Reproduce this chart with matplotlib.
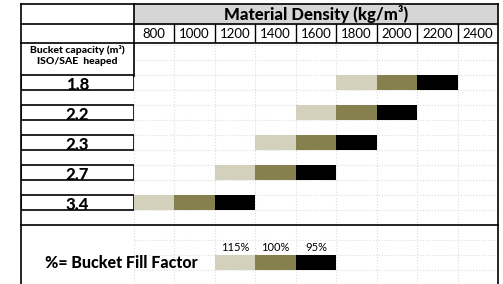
import matplotlib
matplotlib.use("Agg")
from matplotlib import pyplot as plt
from matplotlib.lines import Line2D
import matplotlib.transforms as mtrans
import numpy as np

plt.rcParams['font.family'] = ['Lato', 'DejaVu Sans']

# data
capacities = ['1.8', '2.2', '2.3', '2.7', '3.4']
start_density = [1800, 1600, 1400, 1200, 800]   # column where 115% fill starts
densities = [800, 1000, 1200, 1400, 1600, 1800, 2000, 2200, 2400]
fill_labels = ['115%', '100%', '95%']
fill_colors = ['#d3d0bb', '#86804f', '#000000']
legend_start = 1200
step = 200

W, H = 503, 284
fig = plt.figure(figsize=(W / 100, H / 100), dpi=100)

def fx(px):
    return px / W

def fy(py):
    return 1 - py / H

# row i is centred at 82.5 + 30*i pixels
ytop = (43 - 82.5) / 30
ybot = (284 - 82.5) / 30

# main bar area
ax = fig.add_axes([fx(134), fy(284), fx(498) - fx(134), fy(43) - fy(284)])
ax.set_xlim(densities[0] - step / 2, densities[-1] + step / 2)
ax.set_ylim(ybot, ytop)
for i, start in enumerate(start_density):
    for k, col in enumerate(fill_colors):
        ax.barh(i, step, left=start - step / 2 + k * step, height=0.5,
                color=col, zorder=2)

# legend row
leg_row = len(capacities) + 1
for k, (lab, col) in enumerate(zip(fill_labels, fill_colors)):
    ax.barh(leg_row, step, left=legend_start - step / 2 + k * step, height=0.5,
            color=col, zorder=2)
    ax.text(legend_start + k * step, leg_row - 0.33, lab, ha='center', va='bottom',
            fontsize=8)
tr = mtrans.blended_transform_factory(fig.transFigure, ax.transData)
ax.text(fx(45), leg_row, '%= Bucket Fill Factor', transform=tr, ha='left',
        va='center', fontsize=11.5, fontweight='black')

ax.set_xticks(np.arange(densities[0] - step / 2, densities[-1] + step, step))
ax.set_yticks(np.arange(-1.25, ybot, 0.5))
ax.grid(color='#dcdcdc', linestyle=':', linewidth=0.8)
ax.set_axisbelow(True)
ax.tick_params(length=0, labelbottom=False, labelleft=False)
for s in ax.spines.values():
    s.set_visible(False)

# label column
lax = fig.add_axes([fx(21), fy(284), fx(134) - fx(21), fy(43) - fy(284)], sharey=ax)
lax.set_xlim(0, 1)
lax.barh(range(len(capacities)), 1, left=0, height=0.5, color='white',
         edgecolor='black', linewidth=1.2)
for i, cap in enumerate(capacities):
    lax.text(0.5, i + 0.07, cap, ha='center', va='center', fontsize=12,
             fontweight='black')
lax.text(0.5, -0.9, 'Bucket capacity (m³)\nISO/SAE  heaped', ha='center',
         va='center', fontsize=7.5, fontweight='black', linespacing=1.3)
lax.axis('off')

# header
hax = fig.add_axes([fx(134), fy(43), fx(498) - fx(134), fy(4) - fy(43)], sharex=ax)
hax.set_ylim(43, 4)
hax.axhspan(4, 24, color='#d6d6d6', zorder=0)
hax.text(np.mean(densities), 14, 'Material Density (kg/m³)', ha='center',
         va='center', fontsize=12, fontweight='black')
for d in densities:
    hax.text(d, 33.5, str(d), ha='center', va='center', fontsize=9.5)
hax.vlines(np.arange(densities[0] + step / 2, densities[-1], step), 24, 43,
           color='black', linewidth=1)
hax.axis('off')

# frame lines
def hline(y, x0, x1):
    fig.add_artist(Line2D([fx(x0), fx(x1)], [fy(y), fy(y)], color='black', lw=1.2))

def vline(x, y0, y1):
    fig.add_artist(Line2D([fx(x), fx(x)], [fy(y0), fy(y1)], color='black', lw=1.2))

hline(4, 21, 498)
hline(24, 21, 498)
hline(43, 21, 498)
hline(225, 21, 498)
vline(21, 4, 284)
vline(498, 4, 284)
vline(134, 4, 76)

fig.savefig('out.png', dpi=100)
